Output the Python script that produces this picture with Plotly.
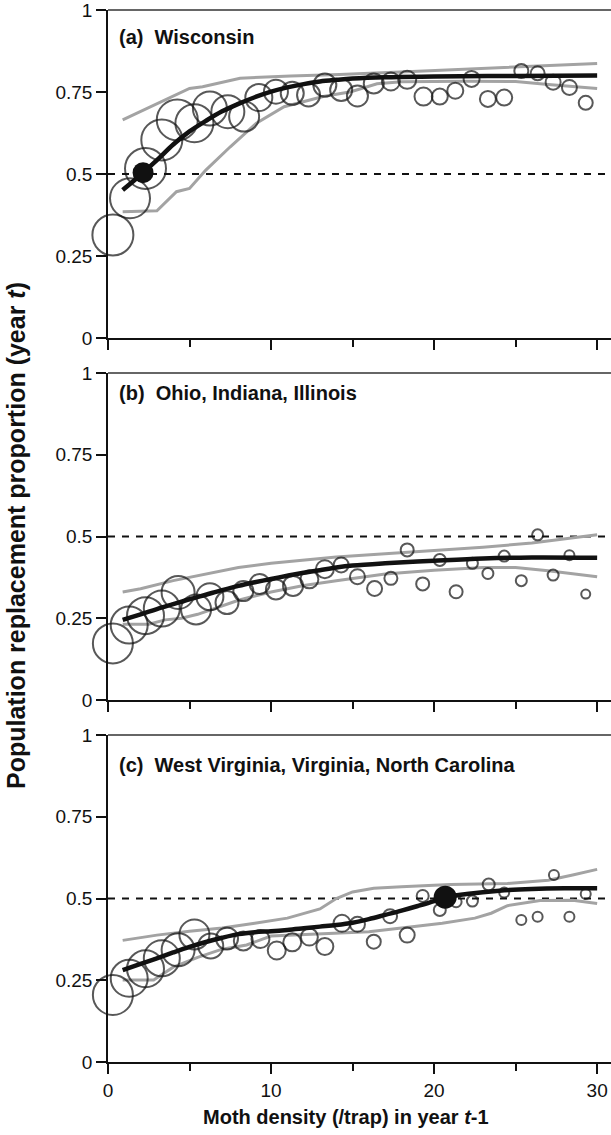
import plotly.graph_objects as go

# ---------------- data ----------------
# bin means of moth density (x) and replacement proportion (y), relative bubble weight
a_x = [0.3, 1.35, 2.3, 3.3, 4.25, 5.3, 6.25, 7.35, 8.35, 9.25, 10.3, 11.3, 12.3, 13.3, 14.3,
       15.3, 16.3, 17.35, 18.35, 19.35, 20.35, 21.3, 22.3, 23.3, 24.3, 25.35, 26.35, 27.3, 28.3, 29.3]
a_y = [0.314, 0.426, 0.517, 0.604, 0.665, 0.655, 0.700, 0.690, 0.675, 0.733, 0.751, 0.746, 0.741, 0.771, 0.756,
       0.738, 0.776, 0.782, 0.787, 0.736, 0.736, 0.754, 0.790, 0.729, 0.733, 0.814, 0.807, 0.780, 0.764, 0.717]
a_w = [41, 40, 41, 41, 41, 38, 34, 33, 30, 27, 24, 23, 23, 23, 22,
       21, 20, 18, 18, 18, 16, 16, 16, 16, 16, 14, 14, 15, 15, 14]

b_x = [0.3, 1.3, 2.3, 3.3, 4.3, 5.4, 6.25, 7.3, 8.3, 9.3, 10.3, 11.35, 12.35, 13.3, 14.3,
       15.3, 16.35, 17.35, 18.35, 19.3, 20.35, 21.35, 22.35, 23.3, 24.3, 25.35, 26.35, 27.3, 28.3, 29.3]
b_y = [0.173, 0.229, 0.258, 0.280, 0.329, 0.277, 0.316, 0.298, 0.333, 0.355, 0.338, 0.349, 0.369, 0.400, 0.413,
       0.377, 0.341, 0.372, 0.459, 0.355, 0.428, 0.331, 0.418, 0.387, 0.440, 0.365, 0.505, 0.382, 0.443, 0.324]
b_w = [40, 37, 37, 36, 33, 30, 27, 23, 20, 20, 20, 20, 18, 18, 15,
       15, 15, 13, 13, 13, 12, 13, 11, 11, 11, 11, 11, 11, 10, 9]

c_x = [0.3, 1.3, 2.3, 3.3, 4.3, 5.3, 6.3, 7.3, 8.3, 9.35, 10.35, 11.3, 12.35, 13.3, 14.35,
       15.3, 16.3, 17.3, 18.35, 19.3, 20.35, 21.35, 22.35, 23.35, 24.3, 25.35, 26.35, 27.35, 28.3, 29.3]
c_y = [0.205, 0.256, 0.285, 0.317, 0.343, 0.390, 0.355, 0.378, 0.370, 0.376, 0.341, 0.366, 0.382, 0.353, 0.424,
       0.421, 0.368, 0.446, 0.388, 0.508, 0.465, 0.490, 0.492, 0.543, 0.518, 0.434, 0.444, 0.572, 0.444, 0.514]
c_w = [40, 37, 37, 36, 33, 30, 25, 22, 19, 18, 18, 18, 17, 17, 17,
       15, 14, 14, 15, 12, 12, 11, 11, 12, 10, 10, 10, 10, 10, 10]

# equilibrium points (replacement = 0.5)
a_eq_x, a_eq_y = [2.15], [0.504]
c_eq_x, c_eq_y = [20.68], [0.504]

# fitted curves and confidence bands
a_fit_x = [0.9, 2.15, 3, 4, 5, 6, 7, 8, 9, 10, 11, 12, 13, 14, 15, 17, 20, 25, 30]
a_fit_y = [0.451, 0.504, 0.542, 0.59, 0.63, 0.662, 0.691, 0.714, 0.734, 0.751, 0.764, 0.774, 0.782, 0.787, 0.791,
           0.795, 0.797, 0.799, 0.800]
a_up_x = [0.9, 2.4, 3.6, 5.0, 5.8, 8.1, 11.2, 14.2, 18.3, 23.4, 30]
a_up_y = [0.665, 0.700, 0.726, 0.761, 0.766, 0.792, 0.799, 0.803, 0.812, 0.822, 0.837]
a_lo_x = [0.9, 3.0, 4.2, 5.0, 6.0, 7.5, 9.1, 10.8, 13.2, 14.9, 16.5, 18, 22, 25, 27, 30]
a_lo_y = [0.385, 0.388, 0.446, 0.456, 0.512, 0.583, 0.655, 0.705, 0.736, 0.751, 0.775, 0.781, 0.783, 0.782, 0.773, 0.761]

b_fit_x = [0.9, 2, 3, 4, 5, 6, 7, 8, 9, 10, 11, 12, 13, 14, 15, 17, 20, 23, 26, 30]
b_fit_y = [0.245, 0.262, 0.278, 0.293, 0.308, 0.322, 0.336, 0.349, 0.36, 0.37, 0.38, 0.389, 0.397, 0.405, 0.411,
           0.418, 0.426, 0.433, 0.436, 0.435]
b_up_x = [0.9, 2, 4, 6, 8, 10, 12, 14, 17, 20, 23, 26, 28, 30]
b_up_y = [0.33, 0.34, 0.365, 0.385, 0.405, 0.418, 0.428, 0.437, 0.447, 0.457, 0.467, 0.48, 0.492, 0.505]
b_lo_x = [0.9, 2.5, 3.5, 4.5, 5.5, 6.5, 8, 9, 10, 12, 14, 17, 20, 23, 25, 27, 30]
b_lo_y = [0.232, 0.232, 0.245, 0.25, 0.262, 0.28, 0.305, 0.318, 0.33, 0.35, 0.365, 0.385, 0.397, 0.405, 0.405,
          0.395, 0.377]

c_fit_x = [0.9, 2, 3, 4, 5, 6, 7, 8, 9, 10, 11, 12, 13, 14, 15, 16, 17, 18, 19, 20, 20.68, 22, 24, 26, 28, 30]
c_fit_y = [0.281, 0.30, 0.317, 0.335, 0.352, 0.367, 0.38, 0.391, 0.397, 0.40, 0.404, 0.409, 0.414, 0.419, 0.426,
           0.437, 0.45, 0.463, 0.477, 0.492, 0.504, 0.514, 0.524, 0.529, 0.531, 0.531]
c_up_x = [0.9, 3, 5, 7, 9, 11, 13, 14, 15, 16.3, 18, 21, 24.5, 27, 28.5, 30]
c_up_y = [0.372, 0.388, 0.40, 0.41, 0.424, 0.44, 0.468, 0.50, 0.52, 0.531, 0.536, 0.543, 0.546, 0.556, 0.572, 0.589]
c_lo_x = [0.9, 2.8, 4, 5.5, 7, 8.5, 10, 12, 14.5, 16, 18, 20.5, 22.5, 23.5, 24.5, 26.5, 28.5, 30]
c_lo_y = [0.251, 0.251, 0.29, 0.32, 0.345, 0.358, 0.385, 0.39, 0.394, 0.398, 0.41, 0.424, 0.44, 0.455, 0.478,
          0.494, 0.495, 0.485]

panel_titles = ["(a)\u00a0 Wisconsin", "(b)\u00a0 Ohio, Indiana, Illinois",
                "(c)\u00a0 West Virginia, Virginia, North Carolina"]
y_tickvals = [0, 0.25, 0.5, 0.75, 1]
y_ticktext = ["0", "0.25", "0.5", "0.75", "1"]
x_tickvals = [0, 10, 20, 30]
x_minor = [5, 15, 25]

# ---------------- figure ----------------
FONT = "Liberation Sans, Arial, Helvetica, sans-serif"
GRAY = "#a3a3a3"
INK = "#111111"
fig = go.Figure()

panels = [
    ("", a_x, a_y, a_w, a_fit_x, a_fit_y, a_up_x, a_up_y, a_lo_x, a_lo_y, a_eq_x, a_eq_y, 21),
    ("2", b_x, b_y, b_w, b_fit_x, b_fit_y, b_up_x, b_up_y, b_lo_x, b_lo_y, [], [], 0),
    ("3", c_x, c_y, c_w, c_fit_x, c_fit_y, c_up_x, c_up_y, c_lo_x, c_lo_y, c_eq_x, c_eq_y, 23),
]

for sfx, px, py, pw, fx, fy, ux, uy, lx, ly, ex, ey, esize in panels:
    xa, ya = "x" + sfx, "y" + sfx
    for gx, gy in ((ux, uy), (lx, ly)):
        fig.add_trace(go.Scatter(x=gx, y=gy, mode="lines", xaxis=xa, yaxis=ya,
                                 line=dict(color=GRAY, width=3), hoverinfo="skip"))
    fig.add_trace(go.Scatter(x=fx, y=fy, mode="lines", xaxis=xa, yaxis=ya,
                             line=dict(color=INK, width=4.5, shape="spline"), hoverinfo="skip"))
    fig.add_trace(go.Scatter(x=px, y=py, mode="markers", xaxis=xa, yaxis=ya, cliponaxis=False,
                             marker=dict(symbol="circle-open", size=pw, color=INK,
                                         line=dict(width=2, color=INK)),
                             hoverinfo="skip"))
    if ex:
        fig.add_trace(go.Scatter(x=ex, y=ey, mode="markers", xaxis=xa, yaxis=ya, cliponaxis=False,
                                 marker=dict(symbol="circle", size=esize, color=INK,
                                             line=dict(width=0)),
                                 hoverinfo="skip"))
    # reference line at replacement = 0.5
    fig.add_shape(type="line", xref=xa + " domain", yref=ya, x0=0, x1=1, y0=0.5, y1=0.5,
                  line=dict(color=INK, width=2, dash="7px,7px"), layer="below")
    # top frame line of each panel
    fig.add_shape(type="line", xref=xa + " domain", yref=ya + " domain", x0=0, x1=1, y0=1, y1=1,
                  line=dict(color="#333333", width=1.6), layer="above")

# layout geometry (pixels)
W, H = 611, 1135
L, R, T, B = 108, 0, 10, 73
ph = H - T - B
def pdom(top_px, bot_px):
    return [(H - B - bot_px) / ph, (H - B - top_px) / ph]

domains = [pdom(10, 338), pdom(373, 700), pdom(735, 1062)]

axis_common = dict(showline=True, linecolor=INK, linewidth=1.6, ticks="outside",
                   tickcolor=INK, tickwidth=1.6, showgrid=False, zeroline=False,
                   ticklabeloverflow="allow",
                   tickfont=dict(family=FONT, size=19, color=INK))

layout = dict(width=W, height=H, margin=dict(l=L, r=R, t=T, b=B),
              paper_bgcolor="white", plot_bgcolor="white", showlegend=False,
              font=dict(family=FONT, color=INK), template="none")

for i, sfx in enumerate(["", "2", "3"]):
    layout["xaxis" + sfx] = dict(axis_common, domain=[0, 1], range=[0, 30.85], anchor="y" + sfx,
                                 tickvals=x_tickvals, ticktext=[str(v) for v in x_tickvals],
                                 ticklen=10, showticklabels=(i == 2),
                                 minor=dict(tickvals=x_minor, ticks="outside", ticklen=7,
                                            tickcolor=INK, tickwidth=1.6))
    layout["yaxis" + sfx] = dict(axis_common, domain=domains[i], range=[0, 1], anchor="x" + sfx,
                                 tickvals=y_tickvals, ticktext=y_ticktext, ticklen=10, ticklabelstandoff=0)

fig.update_layout(**layout)

label_px = [37, 393, 765]
for title, ypx in zip(panel_titles, label_px):
    fig.add_annotation(text="<b>" + title + "</b>", xref="paper", yref="paper",
                       x=(117 - L) / (W - L - R), y=(H - B - ypx) / ph,
                       xanchor="left", yanchor="middle", showarrow=False,
                       font=dict(family=FONT, size=20, color=INK))

fig.add_annotation(text="<b>Moth density (/trap) in year <i>t</i>-1</b>", xref="paper", yref="paper",
                   x=(346 - L) / (W - L - R), y=(H - B - 1117) / ph, xanchor="center", yanchor="middle",
                   showarrow=False, font=dict(family=FONT, size=20, color=INK))
fig.add_annotation(text="<b>Population replacement proportion (year <i>t</i>)</b>", xref="paper", yref="paper",
                   x=(16 - L) / (W - L - R), y=(H - B - 536) / ph, xanchor="center", yanchor="middle",
                   textangle=-90, showarrow=False, font=dict(family=FONT, size=25, color=INK))

fig.write_html("out.html", config={"displayModeBar": False},
               post_script="document.body.style.margin='0';document.body.style.overflow='hidden';")
